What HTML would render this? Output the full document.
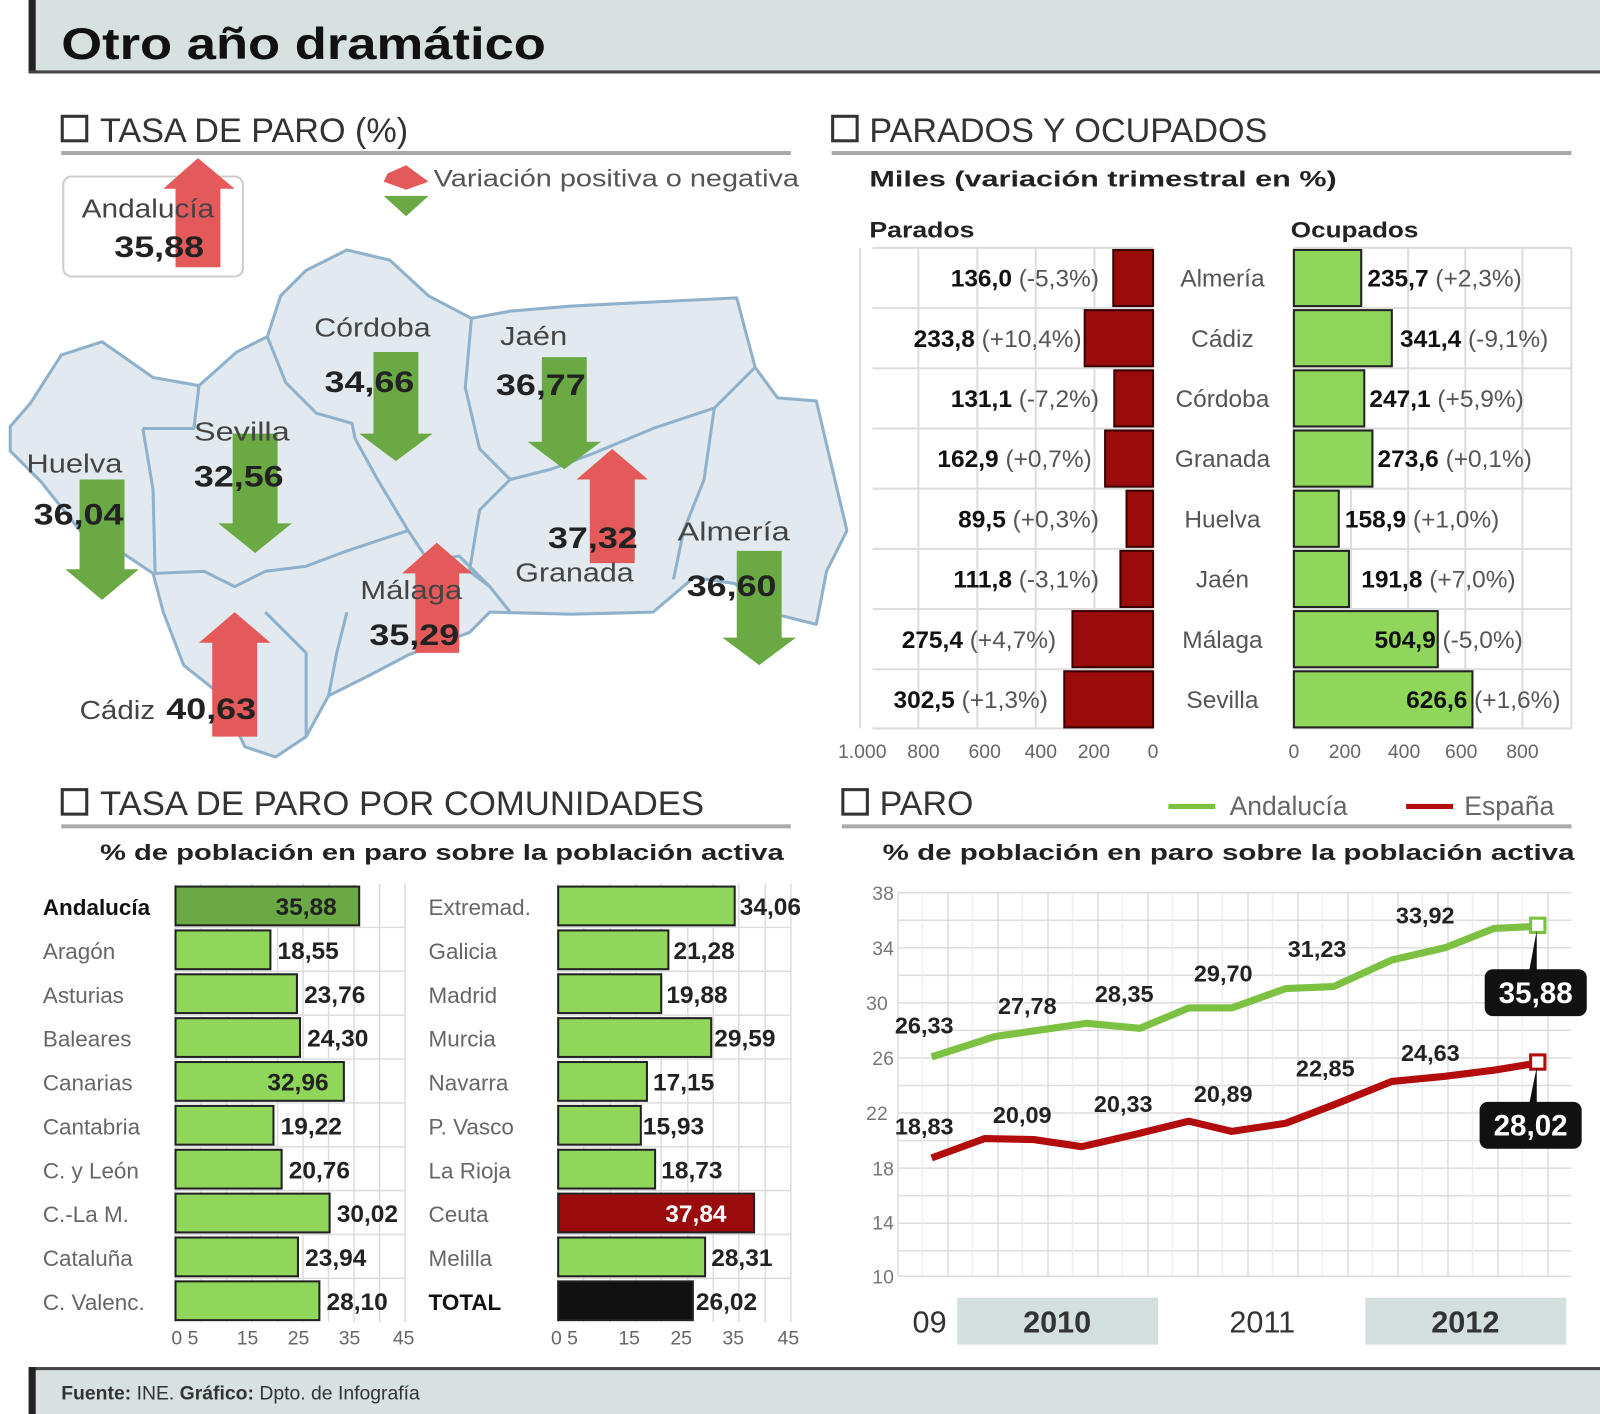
<!DOCTYPE html>
<html><head><meta charset="utf-8"><style>
html,body{margin:0;padding:0;background:#fff}
svg{display:block}
text{font-family:"Liberation Sans",sans-serif}
</style></head><body>
<svg width="1600" height="1414" viewBox="0 0 1568 1386" preserveAspectRatio="none" xmlns="http://www.w3.org/2000/svg">
<!-- header -->
<rect x="32" y="0" width="1536" height="70" fill="#d6e1e0"/>
<rect x="28" y="0" width="7" height="72" fill="#222"/>
<rect x="28" y="69" width="1540" height="3" fill="#444"/>
<text x="60" y="58" font-size="44" font-weight="bold" fill="#111" textLength="475" lengthAdjust="spacingAndGlyphs">Otro año dramático</text>

<!-- footer -->
<rect x="32" y="1340" width="1536" height="46" fill="#d6e1e0"/>
<rect x="28" y="1340" width="1540" height="3" fill="#444"/>
<rect x="28" y="1340" width="7" height="46" fill="#222"/>
<text x="60" y="1372" font-size="19" fill="#333"><tspan font-weight="bold">Fuente:</tspan> INE. <tspan font-weight="bold">Gráfico:</tspan> Dpto. de Infografía</text>

<!-- section headers -->
<g fill="none" stroke="#333" stroke-width="3">
<rect x="61" y="114" width="24" height="24"/>
<rect x="816" y="114" width="24" height="24"/>
<rect x="61" y="774" width="24" height="24"/>
<rect x="826" y="774" width="24" height="24"/>
</g>
<g font-size="34" fill="#333">
<text x="98" y="139" textLength="302" lengthAdjust="spacingAndGlyphs">TASA DE PARO (%)</text>
<text x="852" y="139" textLength="390" lengthAdjust="spacingAndGlyphs">PARADOS Y OCUPADOS</text>
<text x="98" y="799" textLength="592" lengthAdjust="spacingAndGlyphs">TASA DE PARO POR COMUNIDADES</text>
<text x="862" y="799" textLength="92" lengthAdjust="spacingAndGlyphs">PARO</text>
</g>
<g fill="#aaa">
<rect x="60" y="148" width="715" height="4"/>
<rect x="815" y="148" width="725" height="4"/>
<rect x="60" y="808" width="715" height="4"/>
<rect x="825" y="808" width="715" height="4"/>
</g>

<!-- MAP -->
<path d="M10,418 L30,395 L60,348 L100,335 L150,370 L195,378 L232,345 L262,330 L275,290 L300,265 L340,245 L382,255 L420,290 L462,312 L500,305 L560,300 L640,296 L722,292 L740,360 L762,390 L800,393 L820,478 L830,520 L810,560 L800,612 L760,602 L720,572 L680,566 L640,600 L560,602 L480,600 L460,620 L400,642 L362,662 L322,682 L300,722 L270,742 L240,732 L215,680 L180,652 L160,600 L150,562 L120,542 L80,522 L40,472 L10,442 Z" fill="#e3eaef" stroke="#8fb1cc" stroke-width="3" stroke-linejoin="round"/>
<g fill="none" stroke="#8fb1cc" stroke-width="3" stroke-linejoin="round">
<path d="M140,420 L190,420 L195,378"/>
<path d="M140,420 L150,480 L152,562"/>
<path d="M262,330 L280,375 L310,405 L345,415 L348,430"/>
<path d="M348,430 L370,470 L400,520 L420,550"/>
<path d="M152,562 L200,560 L230,575 L260,560 L300,555 L340,540 L400,520"/>
<path d="M462,312 L456,380 L470,440 L500,470 L540,460 L580,445 L640,420 L700,400 L740,360"/>
<path d="M420,550 L450,545 L480,575 L500,600"/>
<path d="M500,470 L470,500 L460,560 L480,575"/>
<path d="M700,400 L690,470 L670,520 L660,568"/>
<path d="M260,600 L280,620 L300,640 L300,722"/>
<path d="M340,600 L330,640 L322,682"/>
</g>

<!-- Andalucia box -->
<rect x="62" y="173" width="176" height="98" rx="8" fill="#fff" stroke="#ccc" stroke-width="2"/>

<!-- arrows -->
<g fill="#e45a5a">
<path d="M172,262 L172,185 L160,185 L194,155 L230,185 L216,185 L216,262 Z"/>
<path d="M578,552 L578,470 L565,470 L600,440 L635,470 L622,470 L622,552 Z"/>
<path d="M407,640 L407,562 L394,562 L428,532 L463,562 L450,562 L450,640 Z"/>
<path d="M208,722 L208,630 L195,630 L230,600 L265,630 L252,630 L252,722 Z"/>
<path d="M380,170 L398,162 L420,178 L398,186 L376,178 Z"/>
</g>
<g fill="#6aa944">
<path d="M366,345 L410,345 L410,425 L424,425 L388,452 L352,425 L366,425 Z"/>
<path d="M531,350 L575,350 L575,433 L589,433 L553,460 L517,433 L531,433 Z"/>
<path d="M228,425 L272,425 L272,513 L286,513 L250,542 L214,513 L228,513 Z"/>
<path d="M78,470 L122,470 L122,558 L136,558 L100,588 L64,558 L78,558 Z"/>
<path d="M722,540 L766,540 L766,625 L780,625 L744,652 L708,625 L722,625 Z"/>
<path d="M376,192 L420,192 L398,212 Z"/>
</g>
<text x="425" y="183" font-size="24" fill="#555" textLength="358" lengthAdjust="spacingAndGlyphs">Variación positiva o negativa</text>
<g font-size="25" fill="#444">
<text x="80" y="213" textLength="130" lengthAdjust="spacingAndGlyphs">Andalucía</text>
<text x="308" y="330" textLength="114" lengthAdjust="spacingAndGlyphs">Córdoba</text>
<text x="490" y="338" textLength="66" lengthAdjust="spacingAndGlyphs">Jaén</text>
<text x="190" y="432" textLength="94" lengthAdjust="spacingAndGlyphs">Sevilla</text>
<text x="26" y="463" textLength="94" lengthAdjust="spacingAndGlyphs">Huelva</text>
<text x="664" y="530" textLength="110" lengthAdjust="spacingAndGlyphs">Almería</text>
<text x="505" y="570" textLength="116" lengthAdjust="spacingAndGlyphs">Granada</text>
<text x="353" y="587" textLength="100" lengthAdjust="spacingAndGlyphs">Málaga</text>
<text x="78" y="705" textLength="74" lengthAdjust="spacingAndGlyphs">Cádiz</text>
</g>
<g font-size="29" font-weight="bold" fill="#222">
<text x="112" y="252" textLength="88" lengthAdjust="spacingAndGlyphs">35,88</text>
<text x="318" y="384" textLength="88" lengthAdjust="spacingAndGlyphs">34,66</text>
<text x="486" y="387" textLength="88" lengthAdjust="spacingAndGlyphs">36,77</text>
<text x="190" y="477" textLength="88" lengthAdjust="spacingAndGlyphs">32,56</text>
<text x="33" y="514" textLength="88" lengthAdjust="spacingAndGlyphs">36,04</text>
<text x="537" y="537" textLength="88" lengthAdjust="spacingAndGlyphs">37,32</text>
<text x="673" y="584" textLength="88" lengthAdjust="spacingAndGlyphs">36,60</text>
<text x="362" y="632" textLength="88" lengthAdjust="spacingAndGlyphs">35,29</text>
<text x="163" y="705" textLength="88" lengthAdjust="spacingAndGlyphs">40,63</text>
</g>

<!-- PARADOS Y OCUPADOS -->
<text x="852" y="183" font-size="22" font-weight="bold" fill="#222" textLength="458" lengthAdjust="spacingAndGlyphs">Miles (variación trimestral en %)</text>
<text x="852" y="233" font-size="22" font-weight="bold" fill="#222" textLength="103" lengthAdjust="spacingAndGlyphs">Parados</text>
<text x="1265" y="233" font-size="22" font-weight="bold" fill="#222" textLength="125" lengthAdjust="spacingAndGlyphs">Ocupados</text>
<g stroke="#ddd" stroke-width="2">
<path d="M843,243 V714 M900,243 V714 M957.8,243 V714 M1015,243 V714 M1072.6,243 V714 M855,243 H1130 M855,302 H1130 M855,361 H1130 M855,420 H1130 M855,479 H1130 M855,538 H1130 M855,597 H1130 M855,656 H1130 M855,714 H1130"/>
<path d="M1268,243 V714 M1324,243 V714 M1380,243 V714 M1436,243 V714 M1492,243 V714 M1540,243 V714 M1268,243 H1540 M1268,302 H1540 M1268,361 H1540 M1268,420 H1540 M1268,479 H1540 M1268,538 H1540 M1268,597 H1540 M1268,656 H1540 M1268,714 H1540"/>
</g>
<g fill="#9a0b0b" stroke="#3a0000" stroke-width="2">
<rect x="1091" y="245" width="39" height="55"/>
<rect x="1063" y="304" width="67" height="55"/>
<rect x="1092" y="363" width="38" height="55"/>
<rect x="1083" y="422" width="47" height="55"/>
<rect x="1104" y="481" width="26" height="55"/>
<rect x="1098" y="540" width="32" height="55"/>
<rect x="1051" y="599" width="79" height="55"/>
<rect x="1043" y="658" width="87" height="55"/>
</g>
<g fill="#8fd65a" stroke="#222" stroke-width="2">
<rect x="1268" y="245" width="66" height="55"/>
<rect x="1268" y="304" width="96" height="55"/>
<rect x="1268" y="363" width="69" height="55"/>
<rect x="1268" y="422" width="77" height="55"/>
<rect x="1268" y="481" width="44" height="55"/>
<rect x="1268" y="540" width="54" height="55"/>
<rect x="1268" y="599" width="141" height="55"/>
<rect x="1268" y="658" width="175" height="55"/>
</g>
<g font-size="24" fill="#555" text-anchor="end">
<text x="1077" y="281"><tspan font-weight="bold" fill="#111">136,0</tspan> (-5,3%)</text>
<text x="1060" y="340"><tspan font-weight="bold" fill="#111">233,8</tspan> (+10,4%)</text>
<text x="1077" y="399"><tspan font-weight="bold" fill="#111">131,1</tspan> (-7,2%)</text>
<text x="1070" y="458"><tspan font-weight="bold" fill="#111">162,9</tspan> (+0,7%)</text>
<text x="1077" y="517"><tspan font-weight="bold" fill="#111">89,5</tspan> (+0,3%)</text>
<text x="1077" y="576"><tspan font-weight="bold" fill="#111">111,8</tspan> (-3,1%)</text>
<text x="1035" y="635"><tspan font-weight="bold" fill="#111">275,4</tspan> (+4,7%)</text>
<text x="1027" y="694"><tspan font-weight="bold" fill="#111">302,5</tspan> (+1,3%)</text>
</g>
<g font-size="24" fill="#555" text-anchor="middle">
<text x="1198" y="281">Almería</text>
<text x="1198" y="340">Cádiz</text>
<text x="1198" y="399">Córdoba</text>
<text x="1198" y="458">Granada</text>
<text x="1198" y="517">Huelva</text>
<text x="1198" y="576">Jaén</text>
<text x="1198" y="635">Málaga</text>
<text x="1198" y="694">Sevilla</text>
</g>
<g font-size="24" fill="#555">
<text x="1340" y="281"><tspan font-weight="bold" fill="#111">235,7</tspan> (+2,3%)</text>
<text x="1372" y="340"><tspan font-weight="bold" fill="#111">341,4</tspan> (-9,1%)</text>
<text x="1342" y="399"><tspan font-weight="bold" fill="#111">247,1</tspan> (+5,9%)</text>
<text x="1350" y="458"><tspan font-weight="bold" fill="#111">273,6</tspan> (+0,1%)</text>
<text x="1318" y="517"><tspan font-weight="bold" fill="#111">158,9</tspan> (+1,0%)</text>
<text x="1334" y="576"><tspan font-weight="bold" fill="#111">191,8</tspan> (+7,0%)</text>
<text x="1347" y="635"><tspan font-weight="bold" fill="#111">504,9</tspan> (-5,0%)</text>
<text x="1378" y="694"><tspan font-weight="bold" fill="#111">626,6</tspan> (+1,6%)</text>
</g>
<g font-size="19" fill="#666" text-anchor="middle">
<text x="845" y="743">1.000</text><text x="905" y="743">800</text><text x="965" y="743">600</text><text x="1020" y="743">400</text><text x="1072" y="743">200</text><text x="1130" y="743">0</text>
<text x="1268" y="743">0</text><text x="1318" y="743">200</text><text x="1376" y="743">400</text><text x="1432" y="743">600</text><text x="1492" y="743">800</text>
</g>

<!-- COMUNIDADES -->
<text x="98" y="843" font-size="22" font-weight="bold" fill="#222" textLength="670" lengthAdjust="spacingAndGlyphs">% de población en paro sobre la población activa</text>
<g stroke="#ddd" stroke-width="1.5">
<path d="M172,866 V1296 M197,866 V1296 M222,866 V1296 M247,866 V1296 M272,866 V1296 M297,866 V1296 M322,866 V1296 M347,866 V1296 M372,866 V1296 M397,866 V1296"/>
<path d="M547,866 V1296 M572,866 V1296 M598,866 V1296 M623,866 V1296 M648,866 V1296 M674,866 V1296 M699,866 V1296 M724,866 V1296 M750,866 V1296 M775,866 V1296"/>
<path d="M172,909 H397 M172,952 H397 M172,995 H397 M172,1038 H397 M172,1081 H397 M172,1124 H397 M172,1167 H397 M172,1210 H397 M172,1253 H397"/>
<path d="M547,909 H775 M547,952 H775 M547,995 H775 M547,1038 H775 M547,1081 H775 M547,1124 H775 M547,1167 H775 M547,1210 H775 M547,1253 H775"/>
</g>
<g stroke="#222" stroke-width="2" fill="#8fd65a">
<rect x="172" y="869" width="180" height="38" fill="#6aa944"/>
<rect x="172" y="912" width="93" height="38"/>
<rect x="172" y="955" width="119" height="38"/>
<rect x="172" y="998" width="122" height="38"/>
<rect x="172" y="1041" width="165" height="38"/>
<rect x="172" y="1084" width="96" height="38"/>
<rect x="172" y="1127" width="104" height="38"/>
<rect x="172" y="1170" width="151" height="38"/>
<rect x="172" y="1213" width="120" height="38"/>
<rect x="172" y="1256" width="141" height="38"/>
<rect x="547" y="869" width="173" height="38"/>
<rect x="547" y="912" width="108" height="38"/>
<rect x="547" y="955" width="101" height="38"/>
<rect x="547" y="998" width="150" height="38"/>
<rect x="547" y="1041" width="87" height="38"/>
<rect x="547" y="1084" width="81" height="38"/>
<rect x="547" y="1127" width="95" height="38"/>
<rect x="547" y="1170" width="192" height="38" fill="#9a0b0b"/>
<rect x="547" y="1213" width="144" height="38"/>
<rect x="547" y="1256" width="132" height="38" fill="#111"/>
</g>
<g font-size="22" fill="#666">
<text x="42" y="897" font-weight="bold" fill="#111">Andalucía</text>
<text x="42" y="940">Aragón</text>
<text x="42" y="983">Asturias</text>
<text x="42" y="1026">Baleares</text>
<text x="42" y="1069">Canarias</text>
<text x="42" y="1112">Cantabria</text>
<text x="42" y="1155">C. y León</text>
<text x="42" y="1198">C.-La M.</text>
<text x="42" y="1241">Cataluña</text>
<text x="42" y="1284">C. Valenc.</text>
<text x="420" y="897">Extremad.</text>
<text x="420" y="940">Galicia</text>
<text x="420" y="983">Madrid</text>
<text x="420" y="1026">Murcia</text>
<text x="420" y="1069">Navarra</text>
<text x="420" y="1112">P. Vasco</text>
<text x="420" y="1155">La Rioja</text>
<text x="420" y="1198">Ceuta</text>
<text x="420" y="1241">Melilla</text>
<text x="420" y="1284" font-weight="bold" fill="#111">TOTAL</text>
</g>
<g font-size="24" font-weight="bold" fill="#222">
<text x="270" y="897">35,88</text>
<text x="272" y="940">18,55</text>
<text x="298" y="983">23,76</text>
<text x="301" y="1026">24,30</text>
<text x="262" y="1069">32,96</text>
<text x="275" y="1112">19,22</text>
<text x="283" y="1155">20,76</text>
<text x="330" y="1198">30,02</text>
<text x="299" y="1241">23,94</text>
<text x="320" y="1284">28,10</text>
<text x="725" y="897">34,06</text>
<text x="660" y="940">21,28</text>
<text x="653" y="983">19,88</text>
<text x="700" y="1026">29,59</text>
<text x="640" y="1069">17,15</text>
<text x="630" y="1112">15,93</text>
<text x="648" y="1155">18,73</text>
<text x="652" y="1198" fill="#fff">37,84</text>
<text x="697" y="1241">28,31</text>
<text x="682" y="1284">26,02</text>
</g>
<g font-size="19" fill="#666">
<text x="168" y="1318">0 5</text><text x="232" y="1318">15</text><text x="282" y="1318">25</text><text x="332" y="1318">35</text><text x="385" y="1318">45</text>
<text x="540" y="1318">0 5</text><text x="606" y="1318">15</text><text x="657" y="1318">25</text><text x="708" y="1318">35</text><text x="762" y="1318">45</text>
</g>

<!-- PARO line chart -->
<rect x="1145" y="788" width="46" height="5" fill="#7cc142"/>
<text x="1205" y="799" font-size="26" fill="#666">Andalucía</text>
<rect x="1378" y="788" width="46" height="5" fill="#b30c0c"/>
<text x="1435" y="799" font-size="26" fill="#666">España</text>
<text x="865" y="843" font-size="22" font-weight="bold" fill="#222" textLength="678" lengthAdjust="spacingAndGlyphs">% de población en paro sobre la población activa</text>
<g stroke="#ddd" stroke-width="1.5">
<path d="M880,875 H1540 M880,902 H1540 M880,929 H1540 M880,956 H1540 M880,983 H1540 M880,1010 H1540 M880,1037 H1540 M880,1064 H1540 M880,1091 H1540 M880,1118 H1540 M880,1145 H1540 M880,1172 H1540 M880,1199 H1540 M880,1226 H1540 M880,1251 H1540"/>
<path d="M880,875 V1251 M929,875 V1251 M978,875 V1251 M1027,875 V1251 M1076,875 V1251 M1125,875 V1251 M1174,875 V1251 M1223,875 V1251 M1272,875 V1251 M1321,875 V1251 M1370,875 V1251 M1419,875 V1251 M1468,875 V1251 M1517,875 V1251"/>
<path d="M904,875 V1251 M953,875 V1251 M1002,875 V1251 M1051,875 V1251 M1100,875 V1251 M1149,875 V1251 M1198,875 V1251 M1247,875 V1251 M1296,875 V1251 M1345,875 V1251 M1394,875 V1251 M1443,875 V1251 M1492,875 V1251" stroke="#eee"/>
</g>
<g font-size="19" fill="#777" text-anchor="end">
<text x="876" y="882">38</text><text x="876" y="936">34</text><text x="870" y="990">30</text><text x="876" y="1044">26</text><text x="870" y="1098">22</text><text x="876" y="1152">18</text><text x="876" y="1205">14</text><text x="876" y="1258">10</text>
</g>
<rect x="938" y="1272" width="197" height="46" fill="#d4e0e0"/>
<rect x="1338" y="1272" width="197" height="46" fill="#d4e0e0"/>
<g font-size="30" text-anchor="middle" fill="#333">
<text x="911" y="1306">09</text>
<text x="1036" y="1306" font-weight="bold">2010</text>
<text x="1237" y="1306">2011</text>
<text x="1436" y="1306" font-weight="bold">2012</text>
</g>
<polyline fill="none" stroke="#7cc142" stroke-width="7" stroke-linejoin="round" points="913,1036 975,1016 1065,1003 1117,1008 1165,988 1207,988 1260,969 1307,967 1364,941 1416,929 1464,910 1507,908"/>
<polyline fill="none" stroke="#b30c0c" stroke-width="7" stroke-linejoin="round" points="913,1135 965,1116 1013,1117 1060,1124 1112,1112 1165,1099 1207,1109 1260,1101 1307,1083 1364,1060 1416,1055 1464,1049 1507,1042"/>
<rect x="1500" y="900" width="14" height="14" fill="#fff" stroke="#7cc142" stroke-width="3"/>
<rect x="1500" y="1034" width="14" height="14" fill="#fff" stroke="#b30c0c" stroke-width="3"/>
<g font-size="23" font-weight="bold" fill="#222">
<text x="877" y="1013">26,33</text>
<text x="978" y="994">27,78</text>
<text x="1073" y="982">28,35</text>
<text x="1170" y="962">29,70</text>
<text x="1262" y="938">31,23</text>
<text x="1368" y="905">33,92</text>
<text x="877" y="1112">18,83</text>
<text x="973" y="1101">20,09</text>
<text x="1072" y="1090">20,33</text>
<text x="1170" y="1080">20,89</text>
<text x="1270" y="1055">22,85</text>
<text x="1373" y="1040">24,63</text>
</g>
<path d="M1506,912 L1506,955 L1498,955 Z" fill="#111"/>
<rect x="1455" y="950" width="100" height="46" rx="8" fill="#111"/>
<text x="1505" y="983" font-size="29" font-weight="bold" fill="#fff" text-anchor="middle">35,88</text>
<path d="M1506,1046 L1506,1085 L1498,1085 Z" fill="#111"/>
<rect x="1450" y="1080" width="100" height="46" rx="8" fill="#111"/>
<text x="1500" y="1113" font-size="29" font-weight="bold" fill="#fff" text-anchor="middle">28,02</text>
</svg>
</body></html>
